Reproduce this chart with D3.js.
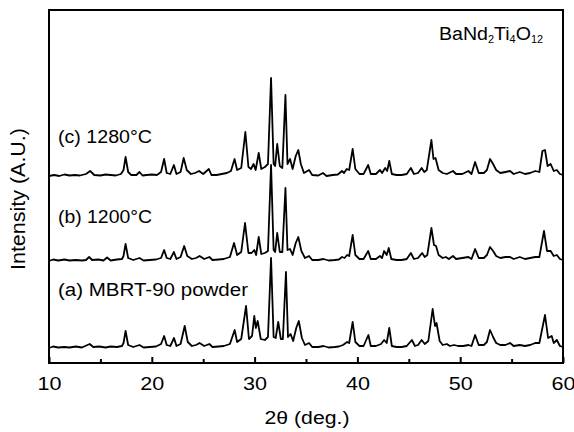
<!DOCTYPE html>
<html>
<head>
<meta charset="utf-8">
<script src="https://cdn.jsdelivr.net/npm/d3@7"></script>
<style>
  html, body { margin: 0; padding: 0; background: #fff; }
  svg text { font-family: "Liberation Sans", Arial, sans-serif; fill: #000; }
</style>
</head>
<body>
<div id="chart"></div>
<script>
// XRD patterns, BaNd2Ti4O12
// each pattern: [2theta (deg), intensity above its own baseline (a.u.)]
const patternA = [
  [10,0],[10.4,15],[10.9,5],[11.5,10],[12,5],[12.6,15],[13.2,5],[13.96,40],[14.3,10],[14.9,15],
  [15.5,5],[16,15],[16.6,10],[17.1,20],[17.25,50],[17.45,170],[17.7,30],[18.2,10],[18.8,30],[19.2,5],
  [19.8,10],[20.4,15],[20.9,40],[21.2,120],[21.45,30],[21.8,20],[22.16,100],[22.4,20],[22.8,40],[23.2,220],
  [23.5,60],[23.9,20],[24.3,30],[24.65,50],[25.1,20],[25.6,40],[25.9,10],[26.5,15],[27,20],[27.6,40],
  [28.06,180],[28.3,60],[28.7,90],[29.17,420],[29.45,90],[29.75,120],[29.97,320],[30.12,200],[30.3,270],[30.6,90],
  [31.0,80],[31.3,110],[31.6,900],[31.85,110],[32.05,100],[32.3,260],[32.55,90],[32.75,90],[33.05,760],[33.25,110],
  [33.5,140],[33.75,70],[34.05,200],[34.3,270],[34.6,100],[34.9,30],[35.3,50],[35.6,10],[36.2,10],[36.7,20],
  [37.2,5],[37.8,10],[38.2,15],[38.6,30],[39.0,60],[39.2,50],[39.54,260],[39.8,60],[40.2,20],[40.6,20],
  [41.07,130],[41.3,20],[41.8,20],[42.3,40],[42.6,80],[42.85,50],[43.1,200],[43.35,20],[43.8,10],[44.3,10],
  [44.8,20],[45.3,80],[45.6,20],[45.9,30],[46.25,80],[46.55,40],[46.9,70],[47.32,390],[47.55,220],[47.7,250],
  [48.0,70],[48.3,30],[48.7,40],[49.0,20],[49.4,30],[49.8,20],[50.3,20],[50.8,30],[51.1,20],[51.45,130],
  [51.8,30],[52.3,30],[52.6,60],[52.9,180],[53.2,110],[53.5,50],[53.9,30],[54.4,30],[54.85,50],[55.2,20],
  [55.8,30],[56.3,20],[56.8,30],[57.3,50],[57.7,50],[58.25,330],[58.55,100],[58.9,120],[59.1,50],[59.4,80],
  [59.7,20],[60,10]
];

const patternB = [
  [10,0],[10.4,15],[10.9,5],[11.5,15],[12,5],[12.6,10],[13.2,5],[13.6,10],[13.9,40],[14.2,10],
  [14.8,15],[15.3,5],[15.65,35],[16,5],[16.6,15],[17.1,20],[17.25,50],[17.45,170],[17.7,30],[18.2,10],
  [18.8,30],[19.2,5],[19.8,10],[20.4,15],[20.9,30],[21.2,110],[21.45,30],[21.8,20],[22.15,90],[22.4,20],
  [22.8,40],[23.15,150],[23.45,50],[23.9,20],[24.3,30],[24.65,50],[25.1,20],[25.6,40],[25.9,10],[26.5,15],
  [27,20],[27.6,40],[28.0,180],[28.3,60],[28.7,90],[29.07,380],[29.4,80],[29.7,80],[29.97,110],[30.15,60],
  [30.4,240],[30.65,70],[31.0,80],[31.3,100],[31.6,960],[31.85,110],[32.0,90],[32.2,280],[32.45,90],[32.7,90],
  [33.0,730],[33.2,110],[33.45,120],[33.7,60],[34.0,180],[34.25,240],[34.55,100],[34.9,30],[35.3,50],[35.6,10],
  [36.2,10],[36.7,20],[37.2,5],[37.8,10],[38.2,15],[38.5,40],[38.75,30],[39.0,60],[39.2,50],[39.54,260],
  [39.8,60],[40.2,20],[40.6,20],[41.05,100],[41.3,20],[41.8,20],[42.2,50],[42.4,30],[42.6,100],[42.85,60],
  [43.05,130],[43.3,20],[43.8,10],[44.3,10],[44.8,20],[45.2,80],[45.5,20],[45.9,30],[46.3,80],[46.55,40],
  [46.8,60],[47.2,330],[47.45,160],[47.65,150],[47.9,60],[48.3,30],[48.6,40],[48.9,20],[49.3,50],[49.6,20],
  [50.2,30],[50.8,40],[51.1,20],[51.45,120],[51.8,30],[52.3,30],[52.6,60],[52.9,140],[53.2,100],[53.5,50],
  [53.9,30],[54.4,40],[54.85,40],[55.2,20],[55.8,40],[56.3,20],[56.8,30],[57.3,40],[57.7,40],[58.15,300],
  [58.45,100],[58.8,100],[59.1,50],[59.4,60],[59.7,20],[60,10]
];

const patternC = [
  [10,0],[10.5,10],[11,0],[11.5,15],[12,5],[12.5,10],[13,5],[13.6,20],[14,50],[14.4,10],
  [15,5],[15.5,15],[16,10],[16.5,5],[17,20],[17.25,60],[17.45,190],[17.7,40],[18,10],[18.5,10],
  [18.8,40],[19.1,5],[19.5,10],[20,15],[20.5,10],[20.9,40],[21.2,170],[21.45,30],[21.8,20],[22.15,110],
  [22.4,20],[22.8,40],[23.1,180],[23.4,60],[23.8,20],[24.2,30],[24.6,50],[25,20],[25.55,70],[25.8,10],
  [26.3,10],[26.8,20],[27.3,30],[27.7,50],[28.05,170],[28.3,60],[28.7,80],[29.1,440],[29.4,90],[29.65,70],
  [29.9,120],[30.1,60],[30.4,230],[30.65,70],[31.0,90],[31.3,120],[31.6,980],[31.85,120],[32.0,100],[32.2,320],
  [32.45,100],[32.7,80],[33.0,810],[33.2,120],[33.45,170],[33.7,70],[34.0,200],[34.25,260],[34.5,120],[34.8,30],
  [35.3,60],[35.6,10],[36.2,5],[36.65,30],[37,0],[37.6,10],[38.1,15],[38.5,50],[38.7,30],[38.96,70],
  [39.2,60],[39.54,270],[39.8,70],[40.2,20],[40.6,20],[41.05,110],[41.3,20],[41.8,20],[42.2,60],[42.4,30],
  [42.7,80],[42.9,50],[43.1,150],[43.35,20],[43.8,10],[44.3,10],[44.8,20],[45.2,80],[45.5,20],[45.9,30],
  [46.25,80],[46.5,40],[46.75,60],[47.2,360],[47.4,170],[47.6,180],[47.9,60],[48.3,30],[48.7,20],[49.3,50],
  [49.6,20],[50.2,20],[50.8,50],[51.1,20],[51.45,140],[51.8,30],[52.3,30],[52.6,60],[52.9,170],[53.2,120],
  [53.5,60],[53.9,30],[54.4,40],[54.85,50],[55.2,20],[55.8,40],[56.3,20],[56.8,30],[57.3,50],[57.7,40],
  [58.0,250],[58.25,260],[58.5,100],[58.8,120],[59.1,50],[59.4,60],[59.7,20],[60,10]
];

const patterns = [patternA, patternB, patternC];
const offsets = [150, 1020, 1870];          // vertical stacking of the three scans
const labels = ['(a) MBRT-90 powder', '(b) 1200°C', '(c) 1280°C'];
const xTicks = [10, 20, 30, 40, 50, 60];
const xMinorTicks = [15, 25, 35, 45, 55];

const W = 574, H = 432;
const margin = { top: 10, right: 11, bottom: 69, left: 49 };
const width = W - margin.left - margin.right;
const height = H - margin.top - margin.bottom;

const svg = d3.select('#chart').append('svg')
  .attr('width', W).attr('height', H);

const g = svg.append('g')
  .attr('transform', `translate(${margin.left},${margin.top})`);

const x = d3.scaleLinear().domain([10, 60]).range([0, width]);
const y = d3.scaleLinear().domain([0, 3530]).range([height, 0]);

// ── traces ──────────────────────────────────────────────
const line = d3.line()
  .x(d => x(d[0]))
  .y(d => y(d[1]));

patterns.forEach((p, i) => {
  g.append('path')
    .datum(p.map(d => [d[0], d[1] + offsets[i]]))
    .attr('d', line)
    .attr('fill', 'none')
    .attr('stroke', '#000')
    .attr('stroke-width', 1.8)
    .attr('stroke-linejoin', 'round');
});

// ── frame + ticks ───────────────────────────────────────
g.append('rect')
  .attr('x', 0).attr('y', 0)
  .attr('width', width).attr('height', height)
  .attr('fill', 'none').attr('stroke', '#000').attr('stroke-width', 2);

const xAxis = g.append('g')
  .attr('transform', `translate(0,${height})`)
  .call(d3.axisBottom(x).tickValues(xTicks).tickSize(-6).tickPadding(14).tickFormat(d3.format('d')));
xAxis.select('.domain').remove();
xAxis.selectAll('line').attr('stroke-width', 2);
xAxis.selectAll('text')
  .attr('font-size', 18)
  .attr('textLength', 24)
  .attr('lengthAdjust', 'spacingAndGlyphs')
  .attr('font-family', '"Liberation Sans", Arial, sans-serif');

const xMinor = g.append('g')
  .attr('transform', `translate(0,${height})`)
  .call(d3.axisBottom(x).tickValues(xMinorTicks).tickSize(-4).tickFormat(''));
xMinor.select('.domain').remove();
xMinor.selectAll('line').attr('stroke-width', 2);

// ── titles / labels ─────────────────────────────────────
svg.append('text')
  .attr('x', 307).attr('y', 424)
  .attr('text-anchor', 'middle')
  .attr('font-size', 18)
  .attr('textLength', 85).attr('lengthAdjust', 'spacingAndGlyphs')
  .text('2θ (deg.)');

svg.append('text')
  .attr('transform', 'translate(25,199) rotate(-90)')
  .attr('text-anchor', 'middle')
  .attr('font-size', 20)
  .attr('textLength', 142).attr('lengthAdjust', 'spacingAndGlyphs')
  .text('Intensity (A.U.)');

const labelPos = [[58, 296, 190], [58, 223, 94], [58, 143, 94]];
labels.forEach((t, i) => {
  svg.append('text')
    .attr('x', labelPos[i][0]).attr('y', labelPos[i][1])
    .attr('font-size', 18)
    .attr('textLength', labelPos[i][2]).attr('lengthAdjust', 'spacingAndGlyphs')
    .text(t);
});

// formula label with subscripts
const formula = svg.append('text')
  .attr('x', 439).attr('y', 40)
  .attr('font-size', 18)
  .attr('textLength', 104).attr('lengthAdjust', 'spacingAndGlyphs');
const parts = [['BaNd', 0], ['2', 1], ['Ti', 0], ['4', 1], ['O', 0], ['12', 1]];
parts.forEach(([t, sub], k) => {
  const ts = formula.append('tspan').text(t);
  if (sub) ts.attr('font-size', 10).attr('dy', 3);
  else if (k > 0) ts.attr('dy', -3);
});
</script>
</body>
</html>
